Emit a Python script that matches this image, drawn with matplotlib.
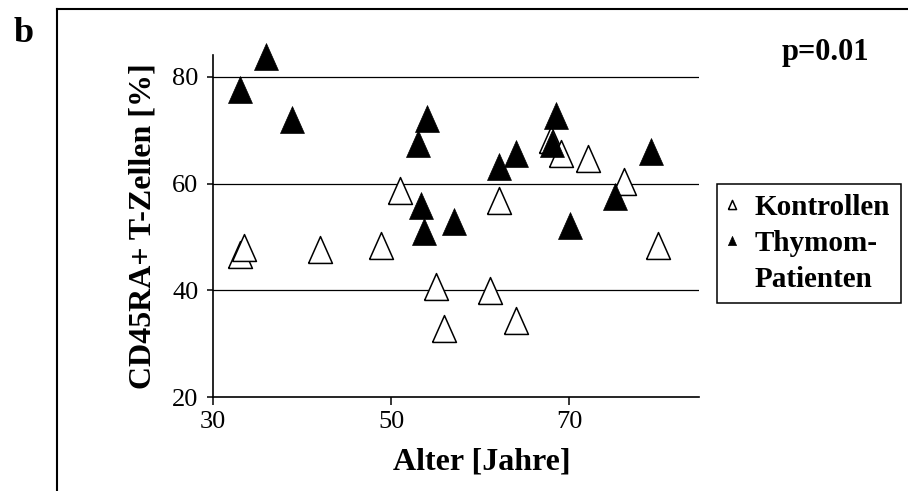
import numpy as np
import matplotlib
matplotlib.use("Agg")
import matplotlib.pyplot as plt
from matplotlib.lines import Line2D

# Kontrollen (open triangles)
ctrl_age = [33.0, 33.5, 42.0, 48.9, 51.0, 55.1, 56.0, 61.1, 62.1, 64.0, 68.0, 69.1, 72.1, 76.2, 80.0]
ctrl_val = [46.5, 47.8, 47.3, 48.1, 58.4, 40.4, 32.6, 39.7, 56.6, 34.1, 68.0, 65.4, 64.4, 60.1, 48.1]

# Thymom-Patienten (filled triangles)
thy_age = [33.0, 36.0, 38.9, 53.0, 54.0, 53.4, 53.7, 57.1, 62.1, 64.0, 68.1, 68.5, 70.1, 75.2, 79.2]
thy_val = [77.4, 83.6, 71.8, 67.3, 71.9, 55.6, 50.7, 52.6, 62.9, 65.4, 67.3, 72.5, 51.9, 57.3, 65.7]

x_ticks = [30, 50, 70]
y_ticks = [20, 40, 60, 80]

W, H = 908, 491

def main():
    plt.rcParams["font.family"] = ["Liberation Serif", "DejaVu Serif"]

    fig = plt.figure(figsize=(W / 100, H / 100), dpi=100)
    ax = fig.add_axes([213 / W, 1 - 397 / H, (699 - 213) / W, (397 - 55) / H])

    # slightly taller than wide, closed outline
    tri = [(-1, -1), (1, -1), (0, 1.25), (-1, -1)]

    h_ctrl, = ax.plot(ctrl_age, ctrl_val, linestyle="none", marker=tri, ms=21.5,
                      mfc="white", mec="black", mew=1.1, clip_on=False, zorder=3)
    h_thy, = ax.plot(thy_age, thy_val, linestyle="none", marker=tri, ms=21.5,
                     mfc="black", mec="black", mew=0.5, clip_on=False, zorder=4)

    ax.set_xlim(30, 84.6)
    ax.set_ylim(20, 84.1)
    ax.set_xticks(x_ticks)
    ax.set_yticks(y_ticks)

    for y in y_ticks[1:]:
        ax.axhline(y, color="black", lw=0.9, zorder=1)

    for s in ["top", "right"]:
        ax.spines[s].set_visible(False)
    for s in ["left", "bottom"]:
        ax.spines[s].set_linewidth(1.2)

    ax.tick_params(axis="both", labelsize=19, width=1.1, color="black")
    ax.tick_params(axis="y", length=4.5, pad=6)
    ax.tick_params(axis="x", length=6, pad=4)

    ax.set_xlabel("Alter [Jahre]", fontsize=23, fontweight="bold", va="center")
    ax.xaxis.set_label_coords(0.553, -0.19)
    ax.set_ylabel("CD45RA+ T-Zellen [%]", fontsize=23, fontweight="bold", va="center")
    ax.yaxis.set_label_coords(-0.144, 0.5)

    # second line of the patient label gets an empty handle so the marker sits on "Thymom-"
    blank = Line2D([], [], linestyle="none", marker=None)
    leg = ax.legend([h_ctrl, h_thy, blank], ["Kontrollen", "Thymom-", "Patienten"],
                    loc="upper left", bbox_to_anchor=(717 / W, 1 - 184 / H),
                    bbox_transform=fig.transFigure, prop={"weight": "bold", "size": 21},
                    markerscale=0.34, handlelength=0.3, handletextpad=0.65,
                    borderpad=0.35, borderaxespad=0, labelspacing=0.3,
                    fancybox=False, framealpha=1)
    leg.get_frame().set_edgecolor("black")
    leg.get_frame().set_linewidth(1.1)

    fig.text(825 / W, 1 - 60 / H, "p=0.01", fontsize=22, fontweight="bold",
             ha="center", va="baseline")
    fig.text(24 / W, 1 - 42 / H, "b", fontsize=26, fontweight="bold",
             ha="center", va="baseline")

    # outer frame (top and left edges only visible)
    fx, fy = 57 / W, 1 - 9 / H
    fig.add_artist(Line2D([fx, 1.01], [fy, fy], color="black", lw=1.5,
                          solid_capstyle="projecting"))
    fig.add_artist(Line2D([fx, fx], [fy, -0.01], color="black", lw=1.5,
                          solid_capstyle="projecting"))

    fig.savefig("out.png", dpi=100)

if __name__ == "__main__":
    main()
